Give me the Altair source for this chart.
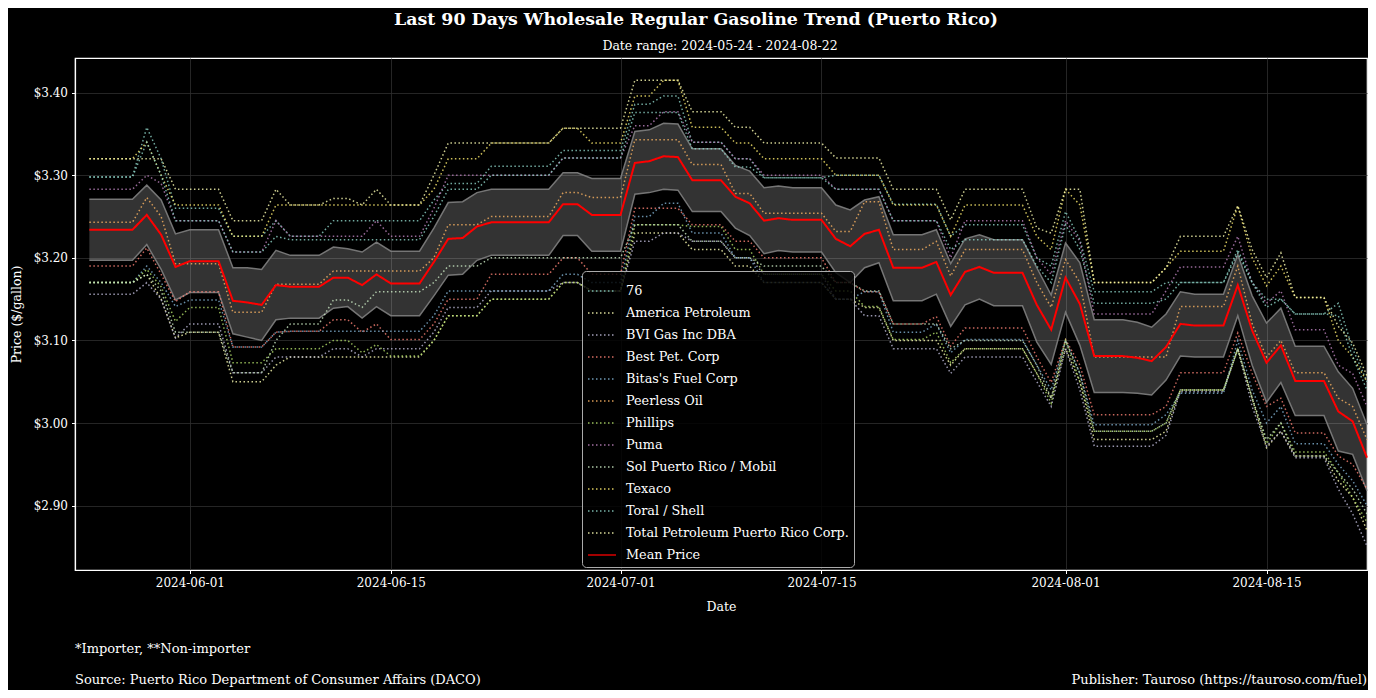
import altair as alt
import pandas as pd
import numpy as np

# ---------------- data ----------------
START_DATE = "2024-05-25"
N_DAYS = 90
DOMAIN_START = (2024, 5, 24)
DOMAIN_END = (2024, 8, 22)
X_TICKS = [(2024, 6, 1), (2024, 6, 15), (2024, 7, 1), (2024, 7, 15), (2024, 8, 1), (2024, 8, 15)]
Y_TICKS = [2.9, 3.0, 3.1, 3.2, 3.3, 3.4]
Y_DOMAIN = [2.822, 3.442]

TITLE = "Last 90 Days Wholesale Regular Gasoline Trend (Puerto Rico)"
SUBTITLE = "Date range: 2024-05-24 - 2024-08-22"
FOOT_NOTE = "*Importer, **Non-importer"
SOURCE = "Source: Puerto Rico Department of Consumer Affairs (DACO)"
PUBLISHER = "Publisher: Tauroso (https://tauroso.com/fuel)"
X_TITLE = "Date"
Y_TITLE = "Price ($/gallon)"

SERIES_NAMES = ["76", "America Petroleum", "BVI Gas Inc DBA", "Best Pet. Corp",
                "Bitas's Fuel Corp", "Peerless Oil", "Phillips", "Puma",
                "Sol Puerto Rico / Mobil", "Texaco", "Toral / Shell",
                "Total Petroleum Puerto Rico Corp."]
SERIES_COLORS = ["#8dd3c7", "#feffb3", "#bfbbd9", "#fa8174", "#81b1d2", "#fdb462",
                 "#b3de69", "#bc82bd", "#ccebc4", "#ffed6f", "#8dd3c7", "#feffb3"]
MEAN_LABEL = "Mean Price"
MEAN_COLOR = "#ff0000"

# day index (0 = 2024-05-25) at which each price level starts
SEG_START = [0, 4, 5, 6, 7, 10, 13, 14, 17, 19, 20, 21, 24, 25, 28, 33, 35, 38, 40, 42, 45,
             47, 52, 54, 56, 59, 60, 61, 66, 67, 68, 69, 70, 75, 76, 80, 81, 82, 83, 84, 87, 88, 89]

P_76 = [3.298, 3.358, 3.320, 3.260, 3.260, 3.226, 3.245, 3.226, 3.245, 3.245, 3.245, 3.245,
        3.270, 3.290, 3.311, 3.330, 3.330, 3.386, 3.396, 3.340, 3.320, 3.297, 3.300, 3.300,
        3.265, 3.265, 3.226, 3.240, 3.200, 3.190, 3.256, 3.222, 3.159, 3.170, 3.170, 3.206,
        3.170, 3.150, 3.150, 3.132, 3.145, 3.090, 3.050]
P_AMERICA = [3.170, 3.180, 3.150, 3.103, 3.110, 3.050, 3.070, 3.080, 3.080, 3.080, 3.080, 3.080,
             3.100, 3.130, 3.150, 3.170, 3.160, 3.230, 3.230, 3.210, 3.190, 3.170, 3.150, 3.140,
             3.100, 3.100, 3.070, 3.090, 3.060, 3.030, 3.090, 3.050, 2.980, 2.990, 3.040, 3.090,
             3.030, 2.970, 2.990, 2.960, 2.930, 2.910, 2.870]
P_BVI = [3.156, 3.170, 3.150, 3.103, 3.120, 3.061, 3.080, 3.080, 3.090, 3.080, 3.090, 3.090,
         3.110, 3.140, 3.160, 3.170, 3.160, 3.220, 3.230, 3.220, 3.200, 3.180, 3.150, 3.130,
         3.090, 3.090, 3.060, 3.080, 3.050, 3.020, 3.090, 3.040, 2.972, 2.985, 3.038, 3.090,
         3.020, 2.972, 2.990, 2.958, 2.920, 2.890, 2.851]
P_BEST = [3.190, 3.212, 3.180, 3.147, 3.159, 3.092, 3.110, 3.111, 3.125, 3.110, 3.120, 3.101,
          3.120, 3.150, 3.180, 3.200, 3.180, 3.260, 3.260, 3.240, 3.220, 3.200, 3.170, 3.159,
          3.120, 3.129, 3.093, 3.115, 3.080, 3.049, 3.101, 3.070, 3.010, 3.020, 3.061, 3.109,
          3.060, 3.020, 3.030, 2.988, 2.960, 2.950, 2.920]
P_BITAS = [3.170, 3.190, 3.170, 3.141, 3.149, 3.092, 3.110, 3.111, 3.111, 3.111, 3.111, 3.111,
           3.130, 3.160, 3.160, 3.180, 3.170, 3.250, 3.266, 3.230, 3.200, 3.170, 3.150, 3.159,
           3.110, 3.120, 3.085, 3.101, 3.070, 3.040, 3.100, 3.060, 2.998, 3.010, 3.036, 3.100,
           3.040, 3.000, 3.020, 2.975, 2.950, 2.930, 2.900]
P_PEERLESS = [3.243, 3.273, 3.250, 3.193, 3.193, 3.134, 3.168, 3.168, 3.184, 3.184, 3.184, 3.184,
              3.200, 3.240, 3.250, 3.279, 3.273, 3.343, 3.343, 3.313, 3.278, 3.254, 3.232, 3.268,
              3.210, 3.220, 3.178, 3.210, 3.170, 3.140, 3.198, 3.170, 3.080, 3.080, 3.141, 3.190,
              3.120, 3.080, 3.100, 3.061, 3.030, 3.020, 2.980]
P_PHILLIPS = [3.170, 3.186, 3.165, 3.123, 3.140, 3.073, 3.090, 3.090, 3.100, 3.085, 3.095, 3.081,
              3.100, 3.130, 3.150, 3.170, 3.160, 3.240, 3.240, 3.238, 3.210, 3.180, 3.160, 3.141,
              3.101, 3.110, 3.073, 3.090, 3.060, 3.024, 3.100, 3.050, 2.990, 3.000, 3.040, 3.089,
              3.030, 2.975, 3.000, 2.965, 2.940, 2.910, 2.880]
P_PUMA = [3.283, 3.300, 3.290, 3.245, 3.245, 3.207, 3.245, 3.226, 3.226, 3.226, 3.245, 3.226,
          3.260, 3.300, 3.300, 3.321, 3.321, 3.360, 3.377, 3.340, 3.320, 3.300, 3.283, 3.283,
          3.245, 3.245, 3.200, 3.245, 3.200, 3.180, 3.245, 3.220, 3.132, 3.160, 3.189, 3.226,
          3.170, 3.145, 3.160, 3.113, 3.070, 3.060, 3.020]
P_SOL = [3.170, 3.180, 3.160, 3.110, 3.110, 3.061, 3.100, 3.120, 3.149, 3.140, 3.159, 3.159,
         3.170, 3.190, 3.200, 3.200, 3.200, 3.240, 3.240, 3.220, 3.200, 3.190, 3.170, 3.160,
         3.120, 3.120, 3.090, 3.100, 3.070, 3.030, 3.100, 3.060, 2.990, 3.000, 3.040, 3.090,
         3.030, 2.980, 3.000, 2.960, 2.940, 2.920, 2.890]
P_TEXACO = [3.320, 3.340, 3.300, 3.264, 3.264, 3.226, 3.264, 3.264, 3.264, 3.264, 3.264, 3.264,
            3.283, 3.320, 3.339, 3.357, 3.339, 3.396, 3.415, 3.358, 3.339, 3.320, 3.300, 3.300,
            3.264, 3.264, 3.226, 3.264, 3.226, 3.210, 3.283, 3.264, 3.170, 3.188, 3.208, 3.263,
            3.200, 3.166, 3.190, 3.152, 3.100, 3.080, 3.050]
P_TORAL = [3.298, 3.340, 3.300, 3.245, 3.245, 3.207, 3.226, 3.222, 3.222, 3.222, 3.222, 3.222,
           3.250, 3.283, 3.300, 3.321, 3.321, 3.376, 3.376, 3.332, 3.310, 3.297, 3.283, 3.283,
           3.245, 3.245, 3.210, 3.222, 3.190, 3.170, 3.240, 3.210, 3.145, 3.150, 3.170, 3.210,
           3.170, 3.140, 3.150, 3.132, 3.130, 3.080, 3.040]
P_TOTAL = [3.320, 3.320, 3.320, 3.283, 3.283, 3.245, 3.283, 3.264, 3.272, 3.264, 3.283, 3.264,
           3.300, 3.339, 3.339, 3.357, 3.357, 3.415, 3.415, 3.377, 3.358, 3.339, 3.321, 3.321,
           3.283, 3.283, 3.246, 3.283, 3.236, 3.230, 3.283, 3.283, 3.170, 3.188, 3.226, 3.263,
           3.210, 3.176, 3.206, 3.152, 3.117, 3.097, 3.057]

MEAN_PRICE = [3.234, 3.234, 3.234, 3.234, 3.252, 3.228, 3.189, 3.196, 3.196, 3.196,
              3.148, 3.146, 3.143, 3.167, 3.165, 3.165, 3.165, 3.176, 3.176, 3.167,
              3.180, 3.169, 3.169, 3.169, 3.195, 3.223, 3.224, 3.238, 3.243, 3.243,
              3.243, 3.243, 3.243, 3.265, 3.265, 3.252, 3.252, 3.252, 3.315, 3.317,
              3.323, 3.322, 3.294, 3.294, 3.294, 3.274, 3.266, 3.245, 3.248, 3.246,
              3.246, 3.246, 3.223, 3.214, 3.229, 3.234, 3.188, 3.188, 3.188, 3.195,
              3.155, 3.183, 3.189, 3.182, 3.182, 3.182, 3.143, 3.113, 3.176, 3.144,
              3.081, 3.081, 3.081, 3.079, 3.075, 3.092, 3.120, 3.118, 3.118, 3.118,
              3.167, 3.112, 3.073, 3.094, 3.051, 3.051, 3.051, 3.014, 3.002, 2.958]
BAND_HALF = [0.037, 0.037, 0.037, 0.037, 0.036, 0.042, 0.040, 0.038, 0.038, 0.038,
             0.040, 0.042, 0.043, 0.042, 0.038, 0.038, 0.038, 0.037, 0.035, 0.040,
             0.039, 0.039, 0.039, 0.039, 0.041, 0.044, 0.044, 0.041, 0.040, 0.040,
             0.040, 0.040, 0.040, 0.038, 0.038, 0.044, 0.044, 0.044, 0.038, 0.038,
             0.040, 0.040, 0.038, 0.038, 0.038, 0.038, 0.039, 0.040, 0.039, 0.039,
             0.039, 0.039, 0.041, 0.044, 0.041, 0.040, 0.040, 0.040, 0.040, 0.039,
             0.038, 0.040, 0.039, 0.040, 0.040, 0.040, 0.045, 0.042, 0.042, 0.050,
             0.044, 0.044, 0.044, 0.043, 0.041, 0.040, 0.039, 0.038, 0.038, 0.038,
             0.037, 0.042, 0.048, 0.045, 0.042, 0.042, 0.042, 0.048, 0.040, 0.040]

SERIES_LEVELS = [P_76, P_AMERICA, P_BVI, P_BEST, P_BITAS, P_PEERLESS, P_PHILLIPS,
                 P_PUMA, P_SOL, P_TEXACO, P_TORAL, P_TOTAL]

# ---------------- tables ----------------
dates = pd.date_range(START_DATE, periods=N_DAYS).strftime("%Y-%m-%d")
seg = np.searchsorted(SEG_START, np.arange(N_DAYS), side="right") - 1

rows = []
for name, levels in zip(SERIES_NAMES, SERIES_LEVELS):
    vals = np.asarray(levels)[seg]
    rows.append(pd.DataFrame({"date": dates, "series": name, "price": vals}))
series_df = pd.concat(rows, ignore_index=True)
mean_df = pd.DataFrame({"date": dates, "series": MEAN_LABEL, "price": MEAN_PRICE})

mean_arr = np.asarray(MEAN_PRICE)
half_arr = np.asarray(BAND_HALF)
band_df = pd.DataFrame({"date": dates, "lower": mean_arr - half_arr, "upper": mean_arr + half_arr})
edge_df = pd.concat([
    pd.DataFrame({"date": dates, "edge": "upper", "price": mean_arr + half_arr}),
    pd.DataFrame({"date": dates, "edge": "lower", "price": mean_arr - half_arr}),
], ignore_index=True)

FONT = "DejaVu Serif"
W, H = 1292, 512


def dt(t):
    return alt.DateTime(year=t[0], month=t[1], date=t[2], utc=True)


x_scale = alt.Scale(type="utc", domain=[dt(DOMAIN_START), dt(DOMAIN_END)])
y_scale = alt.Scale(domain=Y_DOMAIN, nice=False, zero=False)
x_axis = alt.Axis(values=[dt(t) for t in X_TICKS], format="%Y-%m-%d", title=X_TITLE,
                  labelAngle=0, labelPadding=4, titlePadding=12)
y_axis = alt.Axis(values=Y_TICKS, format="$.2f", title=Y_TITLE, labelPadding=4, titlePadding=10)

domain_all = SERIES_NAMES + [MEAN_LABEL]
color_scale = alt.Scale(domain=domain_all, range=SERIES_COLORS + [MEAN_COLOR])
dash_scale = alt.Scale(domain=domain_all, range=[[1.5, 2.5]] * len(SERIES_NAMES) + [[1, 0]])
legend = alt.Legend(orient="none", legendX=507, legendY=213, title=None, symbolType="stroke",
                    symbolSize=784, symbolStrokeWidth=1.6, labelFontSize=12.8, labelFont=FONT,
                    labelColor="#ffffff", fillColor="rgba(0,0,0,0.82)", strokeColor="#aaaaaa",
                    cornerRadius=4, padding=5, rowPadding=0, labelOffset=9, labelLimit=400,
                    symbolOpacity=0.85)

band = alt.Chart(band_df).mark_area(color="#ffffff", opacity=0.2).encode(
    x=alt.X("date:T", scale=x_scale, axis=x_axis),
    y=alt.Y("lower:Q", scale=y_scale, axis=y_axis),
    y2="upper:Q",
)
edges = alt.Chart(edge_df).mark_line(color="#808080", strokeWidth=1.5, opacity=0.9).encode(
    x=alt.X("date:T", scale=x_scale),
    y=alt.Y("price:Q", scale=y_scale),
    detail="edge:N",
)
lines = alt.Chart(series_df).mark_line(strokeWidth=1.5, opacity=0.8).encode(
    x=alt.X("date:T", scale=x_scale),
    y=alt.Y("price:Q", scale=y_scale),
    color=alt.Color("series:N", scale=color_scale, legend=legend, sort=domain_all),
    strokeDash=alt.StrokeDash("series:N", scale=dash_scale, legend=legend, sort=domain_all),
)
mean_line = alt.Chart(mean_df).mark_line(strokeWidth=2).encode(
    x=alt.X("date:T", scale=x_scale),
    y=alt.Y("price:Q", scale=y_scale),
    color=alt.Color("series:N", scale=color_scale, legend=legend, sort=domain_all),
    strokeDash=alt.StrokeDash("series:N", scale=dash_scale, legend=legend, sort=domain_all),
)


def label(text, x, y, size, weight="normal", align="left"):
    return alt.Chart(pd.DataFrame({"t": [text]})).mark_text(
        font=FONT, fontSize=size, fontWeight=weight, color="#ffffff", align=align,
        baseline="middle").encode(text="t:N", x=alt.value(x), y=alt.value(y))


texts = [
    label(TITLE, 621, -38, 17.4, "bold", "center"),
    label(SUBTITLE, 645, -12.5, 12.5, "normal", "center"),
    label(FOOT_NOTE, 0, 591, 13),
    label(SOURCE, 0, 622, 13),
    label(PUBLISHER, W, 622, 13, "normal", "right"),
]

chart = alt.layer(band, edges, lines, mean_line, *texts).properties(
    width=W, height=H,
    autosize=alt.AutoSizeParams(type="none"),
    padding={"left": 67, "top": 50, "right": 1, "bottom": 120},
    background="#000000",
).configure_view(
    stroke="#ffffff", strokeWidth=1.2,
).configure_axis(
    labelFont=FONT, titleFont=FONT, labelFontSize=12, titleFontSize=12.5,
    titleFontWeight="normal", labelColor="#ffffff", titleColor="#ffffff",
    tickColor="#ffffff", domainColor="#ffffff", tickSize=3.5, domainWidth=1.2,
    gridColor="#2e2e2e", gridWidth=0.8,
)

chart.save("out.html", embed_options={"renderer": "svg", "actions": False})
